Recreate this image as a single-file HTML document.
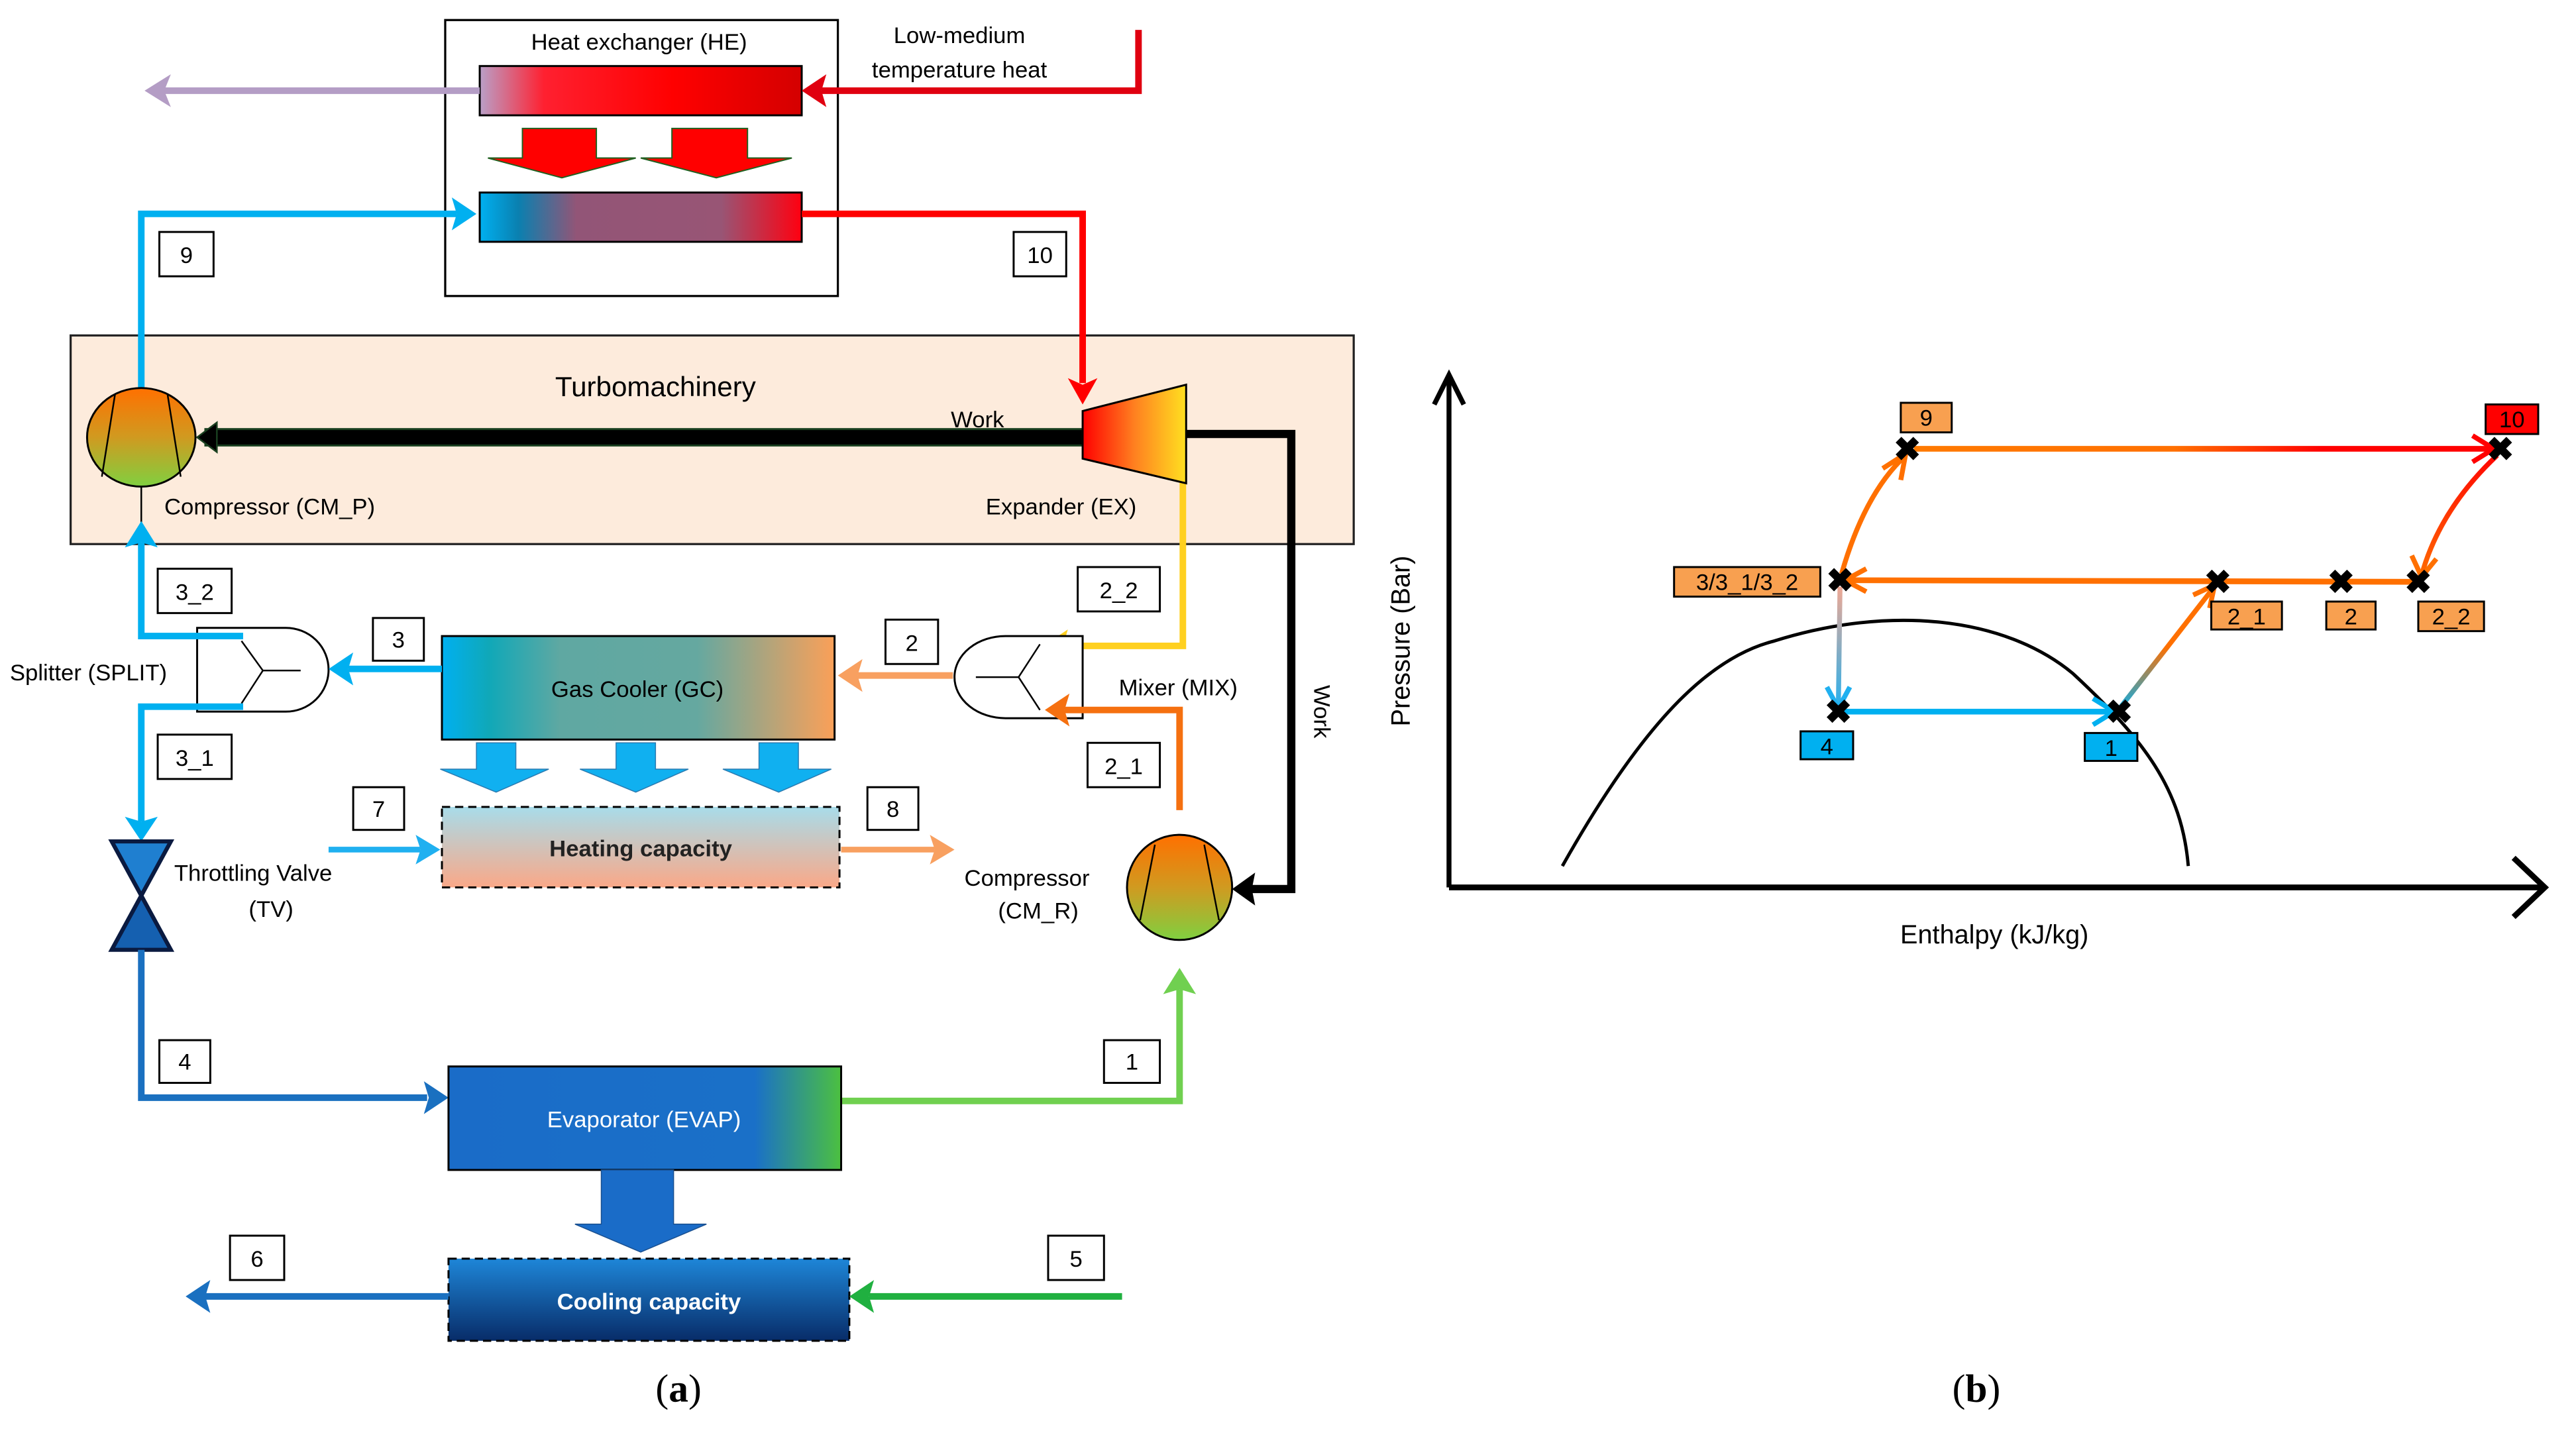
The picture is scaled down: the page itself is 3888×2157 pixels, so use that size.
<!DOCTYPE html>
<html><head><meta charset="utf-8">
<style>
html,body{margin:0;padding:0;background:#fff;}
svg{display:block;}
text{font-family:"Liberation Sans",sans-serif;}
</style></head>
<body>
<svg width="3888" height="2157" viewBox="0 0 1568 869.5" xmlns="http://www.w3.org/2000/svg">
<defs>
<linearGradient id="heTop" x1="0" x2="1" y1="0" y2="0">
<stop offset="0" stop-color="#b9a0c8"/><stop offset="0.2" stop-color="#ff2030"/><stop offset="0.6" stop-color="#ff0000"/><stop offset="1" stop-color="#d40000"/></linearGradient>
<linearGradient id="heBot" x1="0" x2="1" y1="0" y2="0">
<stop offset="0" stop-color="#00b0f0"/><stop offset="0.12" stop-color="#0a80b0"/><stop offset="0.3" stop-color="#925577"/><stop offset="0.75" stop-color="#985575"/><stop offset="1" stop-color="#ff0010"/></linearGradient>
<linearGradient id="comp" x1="0" x2="0" y1="0" y2="1">
<stop offset="0" stop-color="#ff7000"/><stop offset="0.5" stop-color="#d09a20"/><stop offset="1" stop-color="#80d040"/></linearGradient>
<linearGradient id="exp" x1="0" x2="1" y1="0" y2="0">
<stop offset="0" stop-color="#ff0000"/><stop offset="0.5" stop-color="#ff8020"/><stop offset="1" stop-color="#ffe020"/></linearGradient>
<linearGradient id="gc" x1="0" x2="1" y1="0" y2="0">
<stop offset="0" stop-color="#00b0f0"/><stop offset="0.12" stop-color="#10a8b8"/><stop offset="0.3" stop-color="#5fa8a2"/><stop offset="0.65" stop-color="#65a8a0"/><stop offset="1" stop-color="#fba058"/></linearGradient>
<linearGradient id="heat" x1="0" x2="0" y1="0" y2="1">
<stop offset="0" stop-color="#a8dcea"/><stop offset="1" stop-color="#faa888"/></linearGradient>
<linearGradient id="evap" x1="0" x2="1" y1="0" y2="0">
<stop offset="0" stop-color="#1a6cc8"/><stop offset="0.78" stop-color="#1a70c8"/><stop offset="1" stop-color="#4cc040"/></linearGradient>
<linearGradient id="cool" x1="0" x2="0" y1="0" y2="1">
<stop offset="0" stop-color="#1e86d8"/><stop offset="1" stop-color="#082c68"/></linearGradient>
<linearGradient id="g910" x1="1161" x2="1522" y1="0" y2="0" gradientUnits="userSpaceOnUse">
<stop offset="0" stop-color="#ff7a00"/><stop offset="0.45" stop-color="#ff7000"/><stop offset="0.7" stop-color="#ff0000"/><stop offset="1" stop-color="#ff0000"/></linearGradient>
<linearGradient id="g102" x1="0" x2="0" y1="273" y2="354" gradientUnits="userSpaceOnUse">
<stop offset="0" stop-color="#ff0000"/><stop offset="1" stop-color="#ff7000"/></linearGradient>
<linearGradient id="g34" x1="0" x2="0" y1="354" y2="433" gradientUnits="userSpaceOnUse">
<stop offset="0" stop-color="#f8a890"/><stop offset="1" stop-color="#20b0f0"/></linearGradient>
<linearGradient id="g12" x1="0" x2="0" y1="433" y2="354" gradientUnits="userSpaceOnUse">
<stop offset="0" stop-color="#00b0f0"/><stop offset="0.5" stop-color="#ff7000"/><stop offset="1" stop-color="#ff7000"/></linearGradient>
</defs>

<!-- Turbomachinery background first -->
<rect x="43" y="204" width="781" height="127" fill="#fdebdc" stroke="#222" stroke-width="1.3"/>

<!-- HE -->
<rect x="271" y="12" width="239" height="168" fill="none" stroke="#000" stroke-width="1.3"/>
<text x="389" y="30" font-size="14" text-anchor="middle">Heat exchanger (HE)</text>
<rect x="292" y="40" width="196" height="30" fill="url(#heTop)" stroke="#000" stroke-width="1.2"/>
<rect x="292" y="117" width="196" height="30" fill="url(#heBot)" stroke="#000" stroke-width="1.2"/>
<polygon points="318,78 363,78 363,96 387,96 342,108 297,96 318,96" fill="#ff0000" stroke="#206020" stroke-width="0.8"/>
<polygon points="409,78 455,78 455,96 482,96 436,108 390,96 409,96" fill="#ff0000" stroke="#206020" stroke-width="0.8"/>
<polyline points="292,55 100,55" stroke="#b49dc5" stroke-width="4" fill="none"/>
<polygon points="88,55 104,45 100,55 104,65" fill="#b49dc5"/>
<polyline points="693,18 693,55 500,55" stroke="#e00010" stroke-width="4" fill="none"/>
<polygon points="488,55 503,45 500,55 503,65" fill="#e00010"/>
<text x="584" y="26" font-size="14" text-anchor="middle">Low-medium</text>
<text x="584" y="47" font-size="14" text-anchor="middle">temperature heat</text>
<polyline points="86,236 86,130 278,130" stroke="#00b0f0" stroke-width="4" fill="none"/>
<polygon points="290,130 275,120 278,130 275,140" fill="#00b0f0"/>
<polyline points="488,130 659,130 659,233" stroke="#ff0000" stroke-width="4" fill="none"/>
<polygon points="659,246 650,230 659,234 668,230" fill="#ff0000"/>
<rect x="97" y="141" width="33" height="27" fill="#fff" stroke="#000" stroke-width="1.2"/>
<text x="113.5" y="160" font-size="14" text-anchor="middle">9</text>
<rect x="617" y="141" width="32" height="27" fill="#fff" stroke="#000" stroke-width="1.2"/>
<text x="633" y="160" font-size="14" text-anchor="middle">10</text>

<!-- Turbomachinery contents -->
<text x="399" y="241" font-size="17" text-anchor="middle">Turbomachinery</text>
<line x1="86" y1="296" x2="86" y2="318" stroke="#000" stroke-width="1"/>
<ellipse cx="86" cy="266" rx="33" ry="30" fill="url(#comp)" stroke="#000" stroke-width="1.2"/>
<line x1="70" y1="240" x2="62" y2="290" stroke="#000" stroke-width="1"/>
<line x1="102" y1="240" x2="110" y2="290" stroke="#000" stroke-width="1"/>
<rect x="125" y="261" width="534" height="10" fill="#000" stroke="#1a4020" stroke-width="1.2"/>
<polygon points="120,266 132,257 132,275" fill="#000" stroke="#1a4020" stroke-width="1"/>
<text x="595" y="260" font-size="14" text-anchor="middle">Work</text>
<polyline points="720,290 720,393 647,393" stroke="#ffd020" stroke-width="4" fill="none"/>
<polygon points="659,250 722,234 722,294 659,279" fill="url(#exp)" stroke="#000" stroke-width="1.2"/>
<text x="100" y="313" font-size="14">Compressor (CM_P)</text>
<text x="600" y="313" font-size="14">Expander (EX)</text>
<polyline points="722,264 786,264 786,541 762,541" stroke="#000" stroke-width="5" fill="none"/>
<polygon points="750,541 764,531 762,541 764,551" fill="#000"/>
<text x="800" y="433" font-size="14" text-anchor="middle" transform="rotate(90 800 433)">Work</text>

<!-- Mixer -->
<polygon points="635,393 650,383 647,393 650,403" fill="#ffd020"/>
<path d="M659,387 L612,387 A31,25 0 0 0 612,437 L659,437 Z" fill="#fff" stroke="#000" stroke-width="1.2"/>
<polyline points="633,392 620,412 633,432" fill="none" stroke="#000" stroke-width="1"/>
<line x1="594" y1="412" x2="620" y2="412" stroke="#000" stroke-width="1"/>
<rect x="656" y="345" width="50" height="27" fill="#fff" stroke="#000" stroke-width="1.2"/>
<text x="681" y="364" font-size="14" text-anchor="middle">2_2</text>
<text x="681" y="423" font-size="14">Mixer (MIX)</text>
<rect x="539" y="377" width="32" height="27" fill="#fff" stroke="#000" stroke-width="1.2"/>
<text x="555" y="396" font-size="14" text-anchor="middle">2</text>
<line x1="580" y1="411" x2="522" y2="411" stroke="#f8a060" stroke-width="4"/>
<polygon points="510,411 525,401 522,411 525,421" fill="#f8a060"/>
<polyline points="718,493 718,432 648,432" stroke="#f57010" stroke-width="4" fill="none"/>
<polygon points="636,432 651,422 648,432 651,442" fill="#f57010"/>
<rect x="662" y="452" width="44" height="27" fill="#fff" stroke="#000" stroke-width="1.2"/>
<text x="684" y="471" font-size="14" text-anchor="middle">2_1</text>

<!-- Gas Cooler -->
<rect x="269" y="387" width="239" height="63" fill="url(#gc)" stroke="#000" stroke-width="1.2"/>
<text x="388" y="424" font-size="14" text-anchor="middle">Gas Cooler (GC)</text>

<!-- Splitter -->
<path d="M120,382 L174,382 A26,25.5 0 0 1 174,433 L120,433 Z" fill="#fff" stroke="#000" stroke-width="1.2"/>
<polyline points="147,390 160,408 147,428" fill="none" stroke="#000" stroke-width="1"/>
<line x1="160" y1="408" x2="183" y2="408" stroke="#000" stroke-width="1"/>
<rect x="227" y="376" width="31" height="26" fill="#fff" stroke="#000" stroke-width="1.2"/>
<text x="242.5" y="394" font-size="14" text-anchor="middle">3</text>
<line x1="269" y1="407" x2="212" y2="407" stroke="#00b0f0" stroke-width="4"/>
<polygon points="200,407 215,397 212,407 215,417" fill="#00b0f0"/>
<rect x="96" y="346" width="45" height="27" fill="#fff" stroke="#000" stroke-width="1.2"/>
<text x="118.5" y="365" font-size="14" text-anchor="middle">3_2</text>
<polyline points="148,387 86,387 86,330" stroke="#00b0f0" stroke-width="4" fill="none"/>
<polygon points="86,317 76,333 86,330 96,333" fill="#00b0f0"/>
<text x="6" y="414" font-size="14">Splitter (SPLIT)</text>
<polyline points="148,430 86,430 86,500" stroke="#00b0f0" stroke-width="4" fill="none"/>
<polygon points="86,512 76,497 86,500 96,497" fill="#00b0f0"/>
<rect x="96" y="447" width="45" height="27" fill="#fff" stroke="#000" stroke-width="1.2"/>
<text x="118.5" y="466" font-size="14" text-anchor="middle">3_1</text>

<!-- Valve -->
<polygon points="68,512 104,512 86,545" fill="#1f7fd0" stroke="#0a1a40" stroke-width="2.5"/>
<polygon points="86,545 68,578 104,578" fill="#1560b0" stroke="#0a1a40" stroke-width="2.5"/>
<text x="106" y="536" font-size="14">Throttling Valve</text>
<text x="165" y="558" font-size="14" text-anchor="middle">(TV)</text>

<!-- GC down arrows -->
<polygon points="290,452 314,452 314,468 334,468 302,482 268,468 290,468" fill="#10b0f0" stroke="#2a7ab0" stroke-width="0.6"/>
<polygon points="375,452 399,452 399,468 419,468 387,482 353,468 375,468" fill="#10b0f0" stroke="#2a7ab0" stroke-width="0.6"/>
<polygon points="462,452 486,452 486,468 506,468 474,482 440,468 462,468" fill="#10b0f0" stroke="#2a7ab0" stroke-width="0.6"/>

<!-- Heating -->
<rect x="215" y="479" width="31" height="26" fill="#fff" stroke="#000" stroke-width="1.2"/>
<text x="230.5" y="497" font-size="14" text-anchor="middle">7</text>
<line x1="200" y1="517" x2="256" y2="517" stroke="#20b0f0" stroke-width="3.5"/>
<polygon points="268,517 253,508 256,517 253,526" fill="#20b0f0"/>
<rect x="269" y="491" width="242" height="49" fill="url(#heat)" stroke="#000" stroke-width="1.2" stroke-dasharray="5,3"/>
<text x="390" y="521" font-size="14" font-weight="bold" text-anchor="middle" fill="#222">Heating capacity</text>
<rect x="528" y="479" width="31" height="26" fill="#fff" stroke="#000" stroke-width="1.2"/>
<text x="543.5" y="497" font-size="14" text-anchor="middle">8</text>
<line x1="512" y1="517" x2="569" y2="517" stroke="#f8a060" stroke-width="3.5"/>
<polygon points="581,517 566,508 569,517 566,526" fill="#f8a060"/>

<!-- CM_R -->
<ellipse cx="718" cy="540" rx="32" ry="32" fill="url(#comp)" stroke="#000" stroke-width="1.2"/>
<line x1="703" y1="514" x2="694" y2="560" stroke="#000" stroke-width="1"/>
<line x1="733" y1="514" x2="742" y2="560" stroke="#000" stroke-width="1"/>
<text x="587" y="539" font-size="14">Compressor</text>
<text x="632" y="559" font-size="14" text-anchor="middle">(CM_R)</text>
<polyline points="512,670 718,670 718,602" stroke="#70d050" stroke-width="4" fill="none"/>
<polygon points="718,589 708,605 718,602 728,605" fill="#70d050"/>
<rect x="672" y="633" width="34" height="26" fill="#fff" stroke="#000" stroke-width="1.2"/>
<text x="689" y="651" font-size="14" text-anchor="middle">1</text>

<!-- Evap -->
<rect x="97" y="633" width="31" height="26" fill="#fff" stroke="#000" stroke-width="1.2"/>
<text x="112.5" y="651" font-size="14" text-anchor="middle">4</text>
<polyline points="86,578 86,668 260,668" stroke="#1a70c0" stroke-width="4" fill="none"/>
<polygon points="273,668 258,658 261,668 258,678" fill="#1a70c0"/>
<rect x="273" y="649" width="239" height="63" fill="url(#evap)" stroke="#000" stroke-width="1.2"/>
<text x="392" y="686" font-size="14" text-anchor="middle" fill="#fff">Evaporator (EVAP)</text>
<polygon points="366,712 410,712 410,745 430,745 390,762 350,745 366,745" fill="#1a6cc8" stroke="#1a5090" stroke-width="0.6"/>

<!-- Cooling -->
<rect x="273" y="766" width="244" height="50" fill="url(#cool)" stroke="#000" stroke-width="1.2" stroke-dasharray="5,3"/>
<text x="395" y="797" font-size="14" font-weight="bold" text-anchor="middle" fill="#fff">Cooling capacity</text>
<rect x="140" y="752" width="33" height="27" fill="#fff" stroke="#000" stroke-width="1.2"/>
<text x="156.5" y="771" font-size="14" text-anchor="middle">6</text>
<line x1="273" y1="789" x2="125" y2="789" stroke="#1a70c0" stroke-width="4"/>
<polygon points="113,789 128,779 125,789 128,799" fill="#1a70c0"/>
<rect x="638" y="752" width="34" height="27" fill="#fff" stroke="#000" stroke-width="1.2"/>
<text x="655" y="771" font-size="14" text-anchor="middle">5</text>
<line x1="683" y1="789" x2="529" y2="789" stroke="#20b040" stroke-width="4"/>
<polygon points="517,789 532,779 529,789 532,799" fill="#20b040"/>

<text x="413" y="853" font-size="24" text-anchor="middle" style="font-family:'Liberation Serif',serif">(<tspan font-weight="bold">a</tspan>)</text>
<text x="1203" y="853" font-size="24" text-anchor="middle" style="font-family:'Liberation Serif',serif">(<tspan font-weight="bold">b</tspan>)</text>

<!-- Chart b -->
<line x1="882" y1="540" x2="882" y2="230" stroke="#000" stroke-width="3"/>
<polyline points="873,246 882,228 891,246" fill="none" stroke="#000" stroke-width="3"/>
<line x1="882" y1="540" x2="1548" y2="540" stroke="#000" stroke-width="3.5"/>
<polyline points="1530,522 1549,540 1530,558" fill="none" stroke="#000" stroke-width="3.5"/>
<text x="858" y="390" font-size="16" text-anchor="middle" transform="rotate(-90 858 390)">Pressure (Bar)</text>
<text x="1214" y="574" font-size="16" text-anchor="middle">Enthalpy (kJ/kg)</text>
<path d="M951,527 C1000,440 1040,400 1080,390 C1150,368 1220,375 1262,410 C1305,450 1328,480 1332,527" fill="none" stroke="#000" stroke-width="2"/>

<!-- cycle lines -->
<line x1="1165" y1="273" x2="1516" y2="273" stroke="url(#g910)" stroke-width="3.5"/>
<polyline points="1505,265 1518,273 1505,281" fill="none" stroke="#ff0000" stroke-width="3"/>
<path d="M1520,277 Q1485,310 1474,350" fill="none" stroke="url(#g102)" stroke-width="3"/>
<polyline points="1468,338 1474,351 1483,340" fill="none" stroke="#ff7000" stroke-width="3"/>
<line x1="1472" y1="354" x2="1124" y2="353" stroke="#ff7000" stroke-width="3.5"/>
<polyline points="1136,346 1123,353 1136,360" fill="none" stroke="#ff7000" stroke-width="3"/>
<path d="M1121,349 Q1135,300 1160,277" fill="none" stroke="#ff7000" stroke-width="3"/>
<polyline points="1146,285 1160,276 1157,292" fill="none" stroke="#ff7000" stroke-width="3"/>
<line x1="1120" y1="357" x2="1119" y2="430" stroke="url(#g34)" stroke-width="3"/>
<polyline points="1112,418 1119,431 1126,418" fill="none" stroke="#20b0f0" stroke-width="3"/>
<line x1="1122" y1="433" x2="1286" y2="433" stroke="#00b0f0" stroke-width="3.5"/>
<polyline points="1274,425 1287,433 1274,441" fill="none" stroke="#00b0f0" stroke-width="3"/>
<line x1="1291" y1="430" x2="1347" y2="358" stroke="url(#g12)" stroke-width="3"/>
<polyline points="1335,362 1348,356 1345,370" fill="none" stroke="#ff7000" stroke-width="3"/>

<!-- crosses -->
<g font-size="20" font-weight="bold" text-anchor="middle">
<text x="1161" y="280">✖</text>
<text x="1522" y="280">✖</text>
<text x="1120" y="360">✖</text>
<text x="1350" y="361">✖</text>
<text x="1425" y="361">✖</text>
<text x="1472" y="361">✖</text>
<text x="1119" y="440">✖</text>
<text x="1290" y="440">✖</text>
</g>
<g font-size="14" text-anchor="middle" stroke-width="1.2">
<rect x="1157" y="245" width="31" height="18" fill="#f8a050" stroke="#000"/>
<text x="1172.5" y="259">9</text>
<rect x="1513" y="246" width="32" height="18" fill="#ff0000" stroke="#000"/>
<text x="1529" y="260">10</text>
<rect x="1019" y="345" width="89" height="18" fill="#f8a050" stroke="#000"/>
<text x="1063.5" y="359">3/3_1/3_2</text>
<rect x="1346" y="366" width="43" height="17" fill="#f8a050" stroke="#000"/>
<text x="1367.5" y="380">2_1</text>
<rect x="1416" y="366" width="30" height="17" fill="#f8a050" stroke="#000"/>
<text x="1431" y="380">2</text>
<rect x="1472" y="366" width="40" height="18" fill="#f8a050" stroke="#000"/>
<text x="1492" y="380">2_2</text>
<rect x="1096" y="445" width="32" height="17" fill="#00b0f0" stroke="#000"/>
<text x="1112" y="459">4</text>
<rect x="1269" y="446" width="32" height="17" fill="#00b0f0" stroke="#000"/>
<text x="1285" y="460">1</text>
</g>
</svg>
</body></html>
